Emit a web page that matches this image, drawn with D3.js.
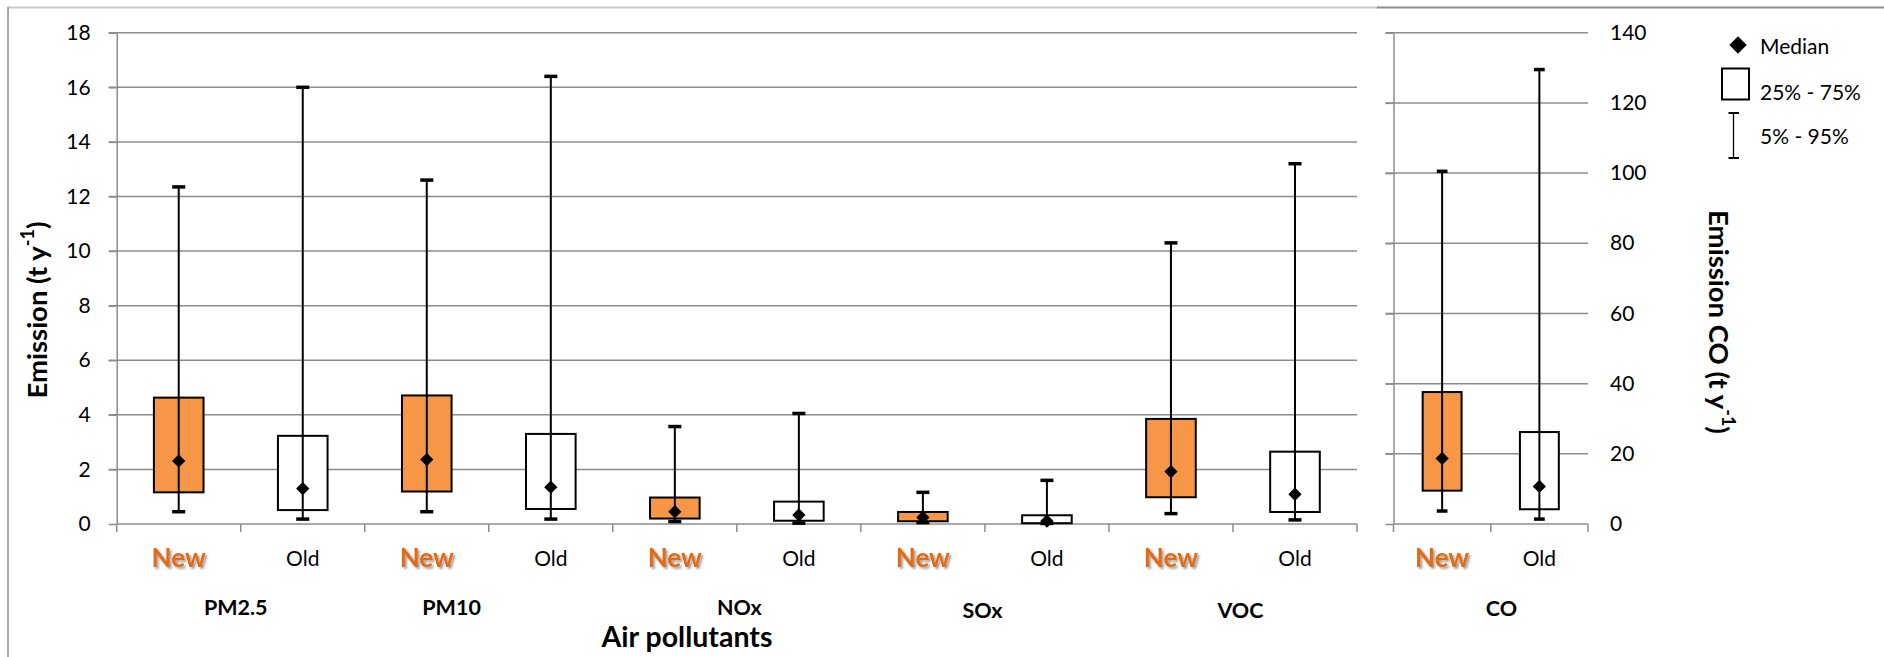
<!DOCTYPE html>
<html lang="en">
<head>
<meta charset="utf-8" />
<title>Emission of air pollutants, new vs old</title>
<script src="https://cdnjs.cloudflare.com/ajax/libs/d3/7.8.5/d3.min.js"></script>
<style>
  body { margin: 0; background: #fff; }
  svg { display: block; font-family: Lato, "Open Sans", sans-serif; }
</style>
</head>
<body>
<svg width="1884" height="657"></svg>
<script>
// ---- data ----
var pollutants = ['PM2.5', 'PM10', 'NOx', 'SOx', 'VOC'];
var ages = ['New', 'Old'];

// one value per box, in order PM2.5 New, PM2.5 Old, PM10 New, ... VOC Old
var p05 = [0.45, 0.18, 0.45, 0.18, 0.09, 0.03, 0.05, 0.02, 0.38, 0.15];
var p25 = [1.16, 0.51, 1.19, 0.55, 0.20, 0.12, 0.10, 0.03, 0.98, 0.44];
var p50 = [2.31, 1.30, 2.36, 1.35, 0.45, 0.33, 0.24, 0.11, 1.92, 1.09];
var p75 = [4.63, 3.23, 4.71, 3.30, 0.97, 0.82, 0.44, 0.32, 3.85, 2.65];
var p95 = [12.35, 16.0, 12.6, 16.4, 3.57, 4.05, 1.16, 1.60, 10.3, 13.2];

// CO on its own axis
var coP05 = [3.7, 1.4];
var coP25 = [9.5, 4.2];
var coP50 = [18.7, 10.7];
var coP75 = [37.6, 26.2];
var coP95 = [100.5, 129.5];

var leftTicks = [0, 2, 4, 6, 8, 10, 12, 14, 16, 18];
var coTicks = [0, 20, 40, 60, 80, 100, 120, 140];

// ---- layout ----
var svg = d3.select('svg');
var yTop = 32.7, yBottom = 524;
var gridColor = '#8c8c8c';
var orange = '#f79646';
var labelOrange = '#e46c0a';

// hand placed group label nudges (in band units from first band of group)
var groupLabelShift = [0.96, 0.70, 1.02, 0.98, 1.06];

var rows = [];
pollutants.forEach(function(p, i) {
    ages.forEach(function(a, j) {
        var k = i * 2 + j;
        rows.push({ key: p + '|' + a, age: a, lo: p05[k], q1: p25[k], med: p50[k], q3: p75[k], hi: p95[k] });
    });
});
var coRows = ages.map(function(a, j) {
    return { key: 'CO|' + a, age: a, lo: coP05[j], q1: coP25[j], med: coP50[j], q3: coP75[j], hi: coP95[j] };
});

var y = d3.scaleLinear().domain([0, 18]).range([yBottom, yTop]);
var yCO = d3.scaleLinear().domain([0, 140]).range([yBottom, yTop]);
var x = d3.scaleBand().domain(rows.map(function(d) { return d.key; })).range([116.7, 1357]);
var xCO = d3.scaleBand().domain(coRows.map(function(d) { return d.key; })).range([1393.5, 1588]);

// drop shadow for the "New" labels
var defs = svg.append('defs');
var f = defs.append('filter').attr('id', 'shadow').attr('x', '-20%').attr('y', '-20%').attr('width', '150%').attr('height', '150%');
f.append('feDropShadow').attr('dx', 2).attr('dy', 2).attr('stdDeviation', 1.2)
    .attr('flood-color', '#7f7f7f').attr('flood-opacity', 0.75);

// outer frame (two charts side by side)
svg.append('line').attr('x1', 8).attr('x2', 1377).attr('y1', 7.5).attr('y2', 7.5)
    .attr('stroke', '#c8c8c8').attr('stroke-width', 2);
svg.append('line').attr('x1', 1377).attr('x2', 1884).attr('y1', 7.5).attr('y2', 7.5)
    .attr('stroke', '#8c8c8c').attr('stroke-width', 2);
svg.append('line').attr('x1', 8).attr('x2', 8).attr('y1', 7).attr('y2', 657)
    .attr('stroke', '#a6a6a6').attr('stroke-width', 2);

function drawPanel(g, rowsP, xs, ys, ticks, side) {
    var x0 = xs.range()[0], x1 = xs.range()[1];

    // gridlines
    g.selectAll('line.grid').data(ticks.slice(1)).enter().append('line')
        .attr('class', 'grid')
        .attr('x1', x0 - 8).attr('x2', x1)
        .attr('y1', function(d) { return ys(d); }).attr('y2', function(d) { return ys(d); })
        .attr('stroke', gridColor).attr('stroke-width', 1.5);

    // vertical axis line with outward ticks
    var ax = g.append('g').attr('transform', 'translate(' + x0 + ',0)')
        .call(d3.axisLeft(ys).tickValues(ticks).tickSize(8).tickSizeOuter(0).tickPadding(18));
    ax.select('.domain').attr('stroke', gridColor).attr('stroke-width', 1.5);
    ax.selectAll('.tick line').attr('stroke', gridColor).attr('stroke-width', 1.5);
    if (side === 'left') {
        ax.selectAll('.tick text').attr('font-size', 21).attr('fill', '#000')
            .attr('font-family', 'Lato, sans-serif');
    } else {
        ax.selectAll('.tick text').remove();
        var rt = g.append('g').attr('transform', 'translate(' + x1 + ',0)')
            .call(d3.axisRight(ys).tickValues(ticks).tickSize(0).tickPadding(22));
        rt.select('.domain').remove();
        rt.selectAll('.tick text').attr('font-size', 21).attr('fill', '#000')
            .attr('font-family', 'Lato, sans-serif');
    }

    // horizontal axis line with category boundary ticks
    var bounds = xs.domain().map(function(d) { return xs(d); }).concat([x1]);
    g.append('line').attr('x1', x0).attr('x2', x1).attr('y1', ys(0)).attr('y2', ys(0))
        .attr('stroke', gridColor).attr('stroke-width', 1.5);
    g.selectAll('line.xtick').data(bounds).enter().append('line')
        .attr('class', 'xtick')
        .attr('x1', function(d) { return d; }).attr('x2', function(d) { return d; })
        .attr('y1', ys(0)).attr('y2', ys(0) + 8)
        .attr('stroke', gridColor).attr('stroke-width', 1.5);

    var bw = xs.bandwidth() * 0.4;
    var cw = xs.bandwidth() * (side === 'left' ? 0.105 : 0.11);
    var cx = function(d) { return xs(d.key) + xs.bandwidth() / 2; };

    var box = g.selectAll('g.box').data(rowsP).enter().append('g').attr('class', 'box');
    box.append('rect')
        .attr('x', function(d) { return cx(d) - bw / 2; })
        .attr('y', function(d) { return ys(d.q3); })
        .attr('width', bw)
        .attr('height', function(d) { return ys(d.q1) - ys(d.q3); })
        .attr('fill', function(d) { return d.age === 'New' ? orange : '#fff'; })
        .attr('stroke', '#000').attr('stroke-width', 2);
    box.append('line')
        .attr('x1', cx).attr('x2', cx)
        .attr('y1', function(d) { return ys(d.lo); }).attr('y2', function(d) { return ys(d.hi); })
        .attr('stroke', '#000').attr('stroke-width', 2);
    ['lo', 'hi'].forEach(function(k) {
        box.append('line')
            .attr('x1', function(d) { return cx(d) - cw / 2; }).attr('x2', function(d) { return cx(d) + cw / 2; })
            .attr('y1', function(d) { return ys(d[k]); }).attr('y2', function(d) { return ys(d[k]); })
            .attr('stroke', '#000').attr('stroke-width', 3.5);
    });
    box.append('path')
        .attr('d', d3.symbol(d3.symbolSquare, 88))
        .attr('transform', function(d) { return 'translate(' + cx(d) + ',' + ys(d.med) + ') rotate(45)'; })
        .attr('fill', '#000');

    // New / Old labels
    g.selectAll('text.age').data(rowsP).enter().append('text')
        .attr('class', 'age')
        .attr('x', cx).attr('y', 557)
        .attr('text-anchor', 'middle').attr('dominant-baseline', 'central')
        .attr('font-size', function(d) { return d.age === 'New' ? 26 : 21; })
        .attr('font-weight', function(d) { return d.age === 'New' ? 'bold' : 'normal'; })
        .attr('fill', function(d) { return d.age === 'New' ? labelOrange : '#000'; })
        .attr('filter', function(d) { return d.age === 'New' ? 'url(#shadow)' : null; })
        .text(function(d) { return d.age; });
}

drawPanel(svg.append('g'), rows, x, y, leftTicks, 'left');
drawPanel(svg.append('g'), coRows, xCO, yCO, coTicks, 'right');

// pollutant group labels
var step = x.bandwidth();
svg.selectAll('text.group').data(pollutants).enter().append('text')
    .attr('class', 'group')
    .attr('x', function(d, i) { return x(d + '|New') + groupLabelShift[i] * step; })
    .attr('y', function(d, i) { return i >= 3 ? 609.5 : 607; })
    .attr('text-anchor', 'middle').attr('dominant-baseline', 'central')
    .attr('font-size', 21.5).attr('font-weight', 'bold')
    .text(function(d) { return d; });
svg.append('text')
    .attr('x', xCO('CO|New') + 1.11 * xCO.bandwidth()).attr('y', 608)
    .attr('text-anchor', 'middle').attr('dominant-baseline', 'central')
    .attr('font-size', 21.5).attr('font-weight', 'bold')
    .text('CO');

// axis titles
svg.append('text')
    .attr('x', 687).attr('y', 636)
    .attr('text-anchor', 'middle').attr('dominant-baseline', 'central')
    .attr('font-size', 28.5).attr('font-weight', 'bold')
    .text('Air pollutants');

var lt = svg.append('text')
    .attr('transform', 'translate(36,310) rotate(-90)')
    .attr('text-anchor', 'middle').attr('dominant-baseline', 'central')
    .attr('font-size', 27.5).attr('font-weight', 'bold');
lt.append('tspan').text('Emission (t y');
lt.append('tspan').attr('font-size', 18).attr('dy', -9).text('-1');
lt.append('tspan').attr('dy', 9).text(')');

var rtl = svg.append('text')
    .attr('transform', 'translate(1720,322) rotate(90)')
    .attr('text-anchor', 'middle').attr('dominant-baseline', 'central')
    .attr('font-size', 27.5).attr('font-weight', 'bold');
rtl.append('tspan').text('Emission CO (t y');
rtl.append('tspan').attr('font-size', 18).attr('dy', -9).text('-1');
rtl.append('tspan').attr('dy', 9).text(')');

// legend
var lg = svg.append('g');
lg.append('path').attr('d', d3.symbol(d3.symbolSquare, 150))
    .attr('transform', 'translate(1738,45) rotate(45)').attr('fill', '#000');
lg.append('rect').attr('x', 1722).attr('y', 68.5).attr('width', 27).attr('height', 31)
    .attr('fill', '#fff').attr('stroke', '#000').attr('stroke-width', 2);
lg.append('line').attr('x1', 1733.5).attr('x2', 1733.5).attr('y1', 113).attr('y2', 158)
    .attr('stroke', '#000').attr('stroke-width', 1.3);
[113, 158].forEach(function(v) {
    lg.append('line').attr('x1', 1728.5).attr('x2', 1739).attr('y1', v).attr('y2', v)
        .attr('stroke', '#000').attr('stroke-width', 2);
});
[['Median', 45], ['25% - 75%', 91], ['5% - 95%', 135]].forEach(function(t) {
    lg.append('text').attr('x', 1760).attr('y', t[1])
        .attr('dominant-baseline', 'central').attr('font-size', 21)
        .text(t[0]);
});
</script>
</body>
</html>
